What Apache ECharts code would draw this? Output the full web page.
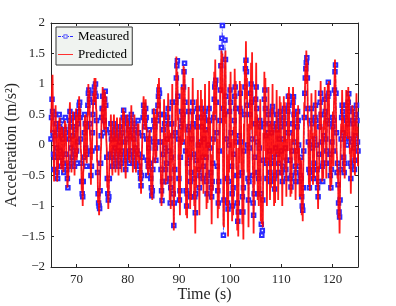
<!DOCTYPE html>
<html>
<head>
<meta charset="utf-8">
<script src="https://cdn.jsdelivr.net/npm/echarts@6/dist/echarts.min.js"></script>
<style>html,body{margin:0;padding:0;background:#fff}#c{width:396px;height:306px}</style>
</head>
<body>
<div id="c"></div>
<script>
// Sampling grid (s)
const timeStart = 65;
const timeStep = 0.1;
const xTicks = [70, 80, 90, 100, 110, 120];
const yTicks = [-2, -1.5, -1, -0.5, 0, 0.5, 1, 1.5, 2];

// Measured acceleration (m/s^2), one row per second, 65.0 .. 125.0
const measured = [
0.10,0.45,0.75,0.55,0.20,-0.15,-0.40,-0.20,0.15,0.50,
0.35,-0.05,-0.45,-0.55,-0.20,0.25,0.50,0.30,-0.10,-0.35,
-0.20,0.15,0.40,0.10,-0.30,-0.45,-0.15,0.25,0.45,0.20,
-0.15,-0.40,-0.55,-0.70,-0.35,0.10,0.40,0.55,0.30,-0.05,
-0.30,-0.20,0.15,0.45,0.30,-0.10,-0.35,-0.15,0.25,0.50,
-0.10,-0.30,0.05,0.35,0.55,0.65,0.70,0.45,0.10,-0.30,
-0.60,-0.80,-0.85,-0.60,-0.20,0.20,0.50,0.35,-0.05,-0.35,
-0.15,0.30,0.65,0.85,0.90,0.75,0.35,-0.10,-0.50,-0.35,
-0.10,0.20,0.50,0.70,0.85,0.95,0.85,1.00,0.80,0.40,
-0.05,-0.45,-0.80,-0.95,-1.00,-1.04,-0.75,-0.30,0.15,0.45,
0.60,0.80,0.60,0.20,0.40,0.75,0.88,0.65,0.25,-0.20,
-0.55,-0.80,-0.90,-0.85,-0.55,-0.15,0.20,0.35,0.10,-0.20,
-0.35,-0.15,0.15,0.35,0.25,-0.05,-0.30,-0.20,0.10,0.30,
0.20,-0.10,-0.35,-0.25,0.05,0.30,0.15,-0.15,-0.30,-0.10,
0.20,0.45,0.57,0.40,0.05,-0.25,-0.40,-0.20,0.10,0.35,
0.45,0.25,-0.10,-0.30,-0.15,0.15,0.40,0.50,0.25,-0.10,
-0.30,-0.20,0.10,0.35,0.25,-0.05,-0.30,-0.35,-0.10,0.20,
0.40,0.20,-0.15,-0.35,-0.45,-0.55,-0.67,-0.50,-0.20,0.15,
0.45,0.65,0.55,0.30,0.40,0.60,0.45,0.10,-0.25,-0.50,
-0.35,-0.05,0.25,0.10,-0.30,-0.55,-0.70,-0.83,-0.75,-0.40,
0.05,0.40,0.55,0.30,-0.05,-0.25,0.05,0.40,0.40,0.65,
0.80,0.90,0.85,0.50,0.05,-0.40,-0.75,-0.91,-0.60,-0.15,
0.25,0.50,0.35,-0.05,-0.40,-0.60,-0.30,0.10,0.45,0.60,
0.35,-0.10,-0.55,-0.95,-0.70,-0.20,0.35,0.70,0.15,-0.80,
-1.32,-0.95,-0.40,0.20,0.70,1.10,1.30,1.38,0.80,0.10,
-0.55,-0.90,-0.75,-0.20,0.30,0.55,0.40,0.05,0.50,0.95,
1.20,1.34,0.70,-0.10,-0.75,-1.00,-0.80,-0.30,0.25,0.55,
0.30,-0.20,-0.60,-0.85,-0.45,0.10,0.55,0.70,0.35,-0.15,
-0.55,-0.85,-1.11,-0.80,-0.25,0.30,0.60,0.45,0.00,-0.40,
-0.70,-0.50,0.05,0.45,0.60,0.30,-0.20,-0.55,-0.35,0.10,
0.45,0.55,0.25,-0.20,-0.60,-0.80,-0.50,0.00,0.40,0.60,
0.40,-0.05,-0.45,-0.70,-0.85,-0.60,-0.30,0.10,0.45,0.75,
0.95,1.00,1.06,0.70,0.20,-0.35,-0.75,-0.95,-0.60,-0.10,
0.40,0.90,1.30,1.60,1.75,1.96,0.60,-1.48,-0.90,0.50,
1.72,1.40,0.80,0.10,-0.55,-0.95,-1.05,-0.60,0.00,0.55,
0.90,0.70,0.20,-0.35,-0.80,-1.00,-0.70,-0.15,0.40,0.80,
0.95,0.60,0.05,-0.50,-0.95,-1.25,-1.10,-0.50,0.15,0.60,
0.85,0.55,0.05,-0.45,-0.85,-1.10,-0.70,-0.10,0.50,0.95,
1.25,1.39,1.20,0.65,0.00,-0.55,-0.90,-0.60,-0.05,0.50,
0.85,1.00,0.70,0.10,-0.50,-0.95,-1.15,-0.80,-0.20,0.35,
0.75,0.95,0.60,0.05,-0.45,-0.80,-0.55,-0.05,0.40,0.30,
-0.80,-1.30,-1.48,-1.40,-0.90,-0.25,0.35,0.75,0.90,0.60,
0.15,-0.30,-0.55,-0.25,0.20,0.50,0.35,-0.10,-0.45,-0.60,
-0.30,0.20,0.55,0.63,0.30,-0.20,-0.55,-0.72,-0.50,-0.05,
0.35,0.50,0.25,-0.15,-0.45,-0.30,0.10,0.40,0.55,0.30,
-0.10,-0.45,-0.60,-0.35,0.10,0.45,0.60,0.35,-0.05,-0.40,
-0.55,-0.25,0.20,0.55,0.80,0.65,0.20,-0.25,-0.55,-0.69,
-0.50,-0.10,0.35,0.70,0.79,0.50,0.05,-0.35,-0.60,-0.45,
-0.10,0.30,0.55,0.40,0.00,-0.35,-0.60,-0.50,-0.20,-0.55,
-0.85,-1.00,-1.07,-0.70,-0.10,0.45,0.85,1.10,1.25,1.35,
1.43,1.10,0.60,0.05,-0.40,-0.70,-0.45,0.00,0.40,0.60,
0.35,-0.05,-0.40,-0.55,-0.30,0.10,0.45,0.65,0.40,0.00,
-0.40,-0.70,-0.85,-0.60,-0.15,0.30,0.70,0.85,0.50,0.05,
-0.35,-0.60,-0.30,0.15,0.50,0.75,0.55,0.10,-0.30,-0.10,
0.40,0.80,1.03,0.85,0.35,-0.15,-0.50,-0.70,-0.40,0.05,
0.45,0.30,-0.10,0.40,0.90,1.20,1.31,0.85,0.20,-0.45,
-0.30,-0.65,-0.95,-1.10,-1.18,-0.90,-0.40,0.10,0.45,0.65,
0.55,0.20,-0.20,-0.45,-0.30,0.10,0.45,0.65,0.40,0.00,
0.35,0.70,0.84,0.55,0.10,-0.30,-0.55,-0.35,0.05,0.40,
0.60,0.35,-0.05,-0.40,-0.25,0.15,0.50,0.65,0.40,0.05,
-0.10
];

// Predicted acceleration (m/s^2), same grid
const predicted = [
0.20,0.60,0.95,1.15,0.40,-0.05,-0.60,-0.10,0.30,0.65,
0.20,0.10,-0.60,-0.40,-0.35,0.40,0.35,0.45,-0.25,-0.20,
-0.40,0.30,0.25,0.25,-0.45,-0.30,-0.30,0.40,0.30,0.35,
-0.30,-0.25,-0.70,-0.55,-0.50,0.25,0.25,0.70,0.15,0.10,
-0.45,-0.05,0.00,0.55,0.15,0.05,-0.50,0.00,0.10,0.60,
-0.25,-0.15,-0.10,0.50,0.40,0.80,0.55,0.60,-0.05,-0.15,
-0.75,-0.65,-1.00,-0.45,-0.35,0.35,0.35,0.50,-0.20,-0.20,
-0.30,0.45,0.50,1.00,0.75,0.90,0.20,0.05,-0.65,-0.20,
-0.25,0.35,0.35,0.85,0.70,1.10,0.70,1.10,0.60,0.55,
-0.25,-0.30,-0.95,-0.80,-1.15,-0.90,-0.90,-0.15,0.00,0.60,
0.45,0.95,0.45,0.35,0.25,0.90,0.70,0.80,0.10,-0.05,
-0.70,-0.65,-1.05,-0.70,-0.70,0.00,0.05,0.50,-0.05,-0.05,
-0.50,0.00,0.00,0.50,0.10,0.10,-0.45,-0.05,-0.05,0.45,
0.05,0.05,-0.50,-0.10,-0.10,0.45,0.00,0.00,-0.45,0.05,
0.05,0.60,0.42,0.55,-0.10,-0.10,-0.55,-0.05,-0.05,0.50,
0.30,0.40,-0.25,-0.15,-0.30,0.30,0.25,0.65,0.10,0.05,
-0.45,-0.05,-0.05,0.50,0.10,0.10,-0.45,-0.20,-0.25,0.35,
0.25,0.35,-0.30,-0.20,-0.60,-0.40,-0.80,-0.35,-0.35,0.30,
0.30,0.80,0.40,0.45,0.25,0.75,0.30,0.25,-0.40,-0.35,
-0.50,0.10,0.10,0.25,-0.45,-0.40,-0.85,-0.70,-0.90,-0.25,
-0.15,0.60,0.35,0.50,-0.30,-0.05,-0.20,0.60,0.45,1.00,
0.60,1.10,0.60,0.75,-0.20,-0.20,-1.00,-0.70,-0.85,0.10,
0.00,0.75,0.10,0.20,-0.65,-0.35,-0.60,0.35,0.20,0.85,
0.05,0.25,-0.90,-0.60,-1.05,0.20,-0.05,1.00,-0.20,-0.40,
-1.40,-0.60,-0.85,0.65,0.30,1.45,0.90,1.20,0.40,0.50,
-0.95,-0.50,-1.15,0.25,-0.15,0.95,0.00,0.50,0.05,1.30,
0.75,1.25,0.20,0.35,-1.15,-0.60,-1.20,0.15,-0.20,0.95,
-0.15,0.25,-1.05,-0.40,-0.90,0.55,0.10,1.10,-0.10,0.30,
-1.00,-0.40,-1.45,-0.35,-0.70,0.75,0.15,0.90,-0.45,0.05,
-1.15,-0.05,-0.40,0.90,0.15,0.75,-0.65,-0.10,-0.80,0.55,
0.00,1.00,-0.20,0.25,-1.05,-0.35,-0.95,0.45,-0.05,1.05,
-0.05,0.40,-0.90,-0.25,-1.30,-0.15,-0.75,0.55,0.00,1.20,
0.50,1.40,0.60,1.10,-0.25,0.10,-1.20,-0.50,-1.05,0.35,
-0.05,1.35,0.85,1.55,1.25,1.50,0.10,-1.30,-1.35,0.90,
1.30,1.55,0.35,0.55,-1.00,-0.50,-1.50,-0.15,-0.45,1.00,
0.45,1.20,-0.25,0.10,-1.25,-0.55,-1.15,0.30,-0.05,1.25,
0.50,1.05,-0.40,-0.05,-1.40,-0.80,-1.50,-0.05,-0.30,1.05,
0.40,1.00,-0.40,0.00,-1.30,-0.65,-1.55,0.35,0.05,1.40,
0.80,1.70,0.75,1.10,-0.45,0.35,-1.35,-0.15,-0.50,0.95,
0.40,1.35,0.25,1.52,-0.05,-0.50,-1.45,-0.35,-0.65,0.80,
0.30,1.35,0.15,0.50,-0.90,-0.35,-1.00,0.40,-0.05,0.75,
-1.25,-0.85,-1.30,-0.95,-1.35,0.20,-0.10,1.20,0.45,1.10,
-0.30,0.15,-1.00,0.20,-0.25,0.95,-0.10,0.35,-0.90,-0.15,
-0.70,0.60,0.15,1.00,-0.15,0.25,-1.00,-0.30,-0.95,0.35,
-0.10,0.90,-0.15,0.25,-0.90,0.10,-0.30,0.80,0.15,0.70,
-0.50,0.00,-1.00,0.05,-0.25,0.80,0.25,0.70,-0.40,-0.05,
-0.85,0.10,-0.10,0.85,0.50,0.95,-0.10,0.10,-0.85,-0.40,
-0.80,0.20,0.05,0.95,0.50,0.80,-0.25,-0.05,-0.90,-0.15,
-0.35,0.55,0.25,0.65,-0.30,-0.05,-0.85,-0.20,-0.50,-0.25,
-1.15,-0.75,-1.25,-0.40,-0.40,0.70,0.60,1.30,1.00,1.55,
1.20,1.35,0.35,0.30,-0.65,-0.45,-0.75,0.25,0.15,0.85,
0.10,0.20,-0.65,-0.30,-0.55,0.35,0.20,0.90,0.15,0.25,
-0.65,-0.45,-1.05,-0.35,-0.40,0.55,0.45,1.05,0.25,0.30,
-0.60,-0.35,-0.55,0.40,0.25,0.95,0.30,0.35,-0.55,0.15,
0.15,1.00,0.80,1.05,0.10,0.10,-0.75,-0.45,-0.65,0.30,
0.20,0.55,-0.35,0.65,0.65,1.40,1.05,1.05,-0.05,-0.20,
-0.55,-0.40,-1.20,-0.85,-1.45,-0.65,-0.65,0.35,0.20,0.90,
0.30,0.45,-0.45,-0.20,-0.55,0.35,0.20,0.90,0.15,0.25,
0.10,0.95,0.60,0.80,-0.15,-0.05,-0.80,-0.10,-0.20,0.65,
0.35,0.60,-0.30,-0.15,-0.50,0.40,0.25,0.85,0.15,0.30,
-0.35
];

const seriesNames = ['Measured', 'Predicted'];

const toPairs = arr => arr.map((v, i) => [+(timeStart + i * timeStep).toFixed(2), v]);

const font = 'Liberation Serif';
const axisColor = '#262626';
const fmtY = v => (v < 0 ? '\u2212' + Math.abs(v) : String(v));

// legend glyphs: dash-dot line with hollow square / plain thin line
const measuredIcon = 'path://M0,1.6H3V2.4H0Z M4,1.6H5V2.4H4Z M5.5,0H9.5V4H5.5Z M6.3,0.8V3.2H8.7V0.8Z M10,1.6H11V2.4H10Z M12,1.6H15V2.4H12Z';
const predictedIcon = 'path://M0,0H15V1H0Z';

const chart = echarts.init(document.getElementById('c'), null, {renderer: 'canvas'});
chart.setOption({
  animation: false,
  backgroundColor: '#ffffff',
  grid: {left: 51, right: 38, top: 23, bottom: 39, containLabel: false, outerBoundsMode: 'none'},
  legend: {
    orient: 'vertical',
    left: 56, top: 27,
    itemWidth: 15, itemHeight: 10, itemGap: 5,
    padding: [3, 3, 4, 2],
    backgroundColor: '#f0f3f0',
    borderColor: '#333333', borderWidth: 1, borderRadius: 0,
    textStyle: {fontFamily: font, fontSize: 13, color: '#000'},
    itemStyle: {borderWidth: 0},
    data: [
      {name: seriesNames[0], icon: measuredIcon, itemStyle: {color: '#2b2bff', borderWidth: 0}},
      {name: seriesNames[1], icon: predictedIcon, itemStyle: {color: '#ff3030', borderWidth: 0}}
    ]
  },
  xAxis: [{
    type: 'value', min: 65, max: 125,
    name: 'Time (s)', nameLocation: 'middle', nameGap: 20, nameMoveOverlap: false,
    nameTextStyle: {fontFamily: font, fontSize: 16, color: axisColor},
    axisLine: {show: true, onZero: false, lineStyle: {color: axisColor, width: 1}},
    axisTick: {show: true, inside: true, length: 3, lineStyle: {color: axisColor}, customValues: xTicks},
    axisLabel: {fontFamily: font, fontSize: 13, color: axisColor, margin: 6, customValues: xTicks},
    splitLine: {show: false}
  }, {
    type: 'value', min: 65, max: 125, position: 'top',
    axisLine: {show: true, onZero: false, lineStyle: {color: axisColor, width: 1}},
    axisTick: {show: true, inside: true, length: 3, lineStyle: {color: axisColor}, customValues: xTicks},
    axisLabel: {show: false},
    splitLine: {show: false}
  }],
  yAxis: [{
    type: 'value', min: -2, max: 2, interval: 0.5,
    name: 'Acceleration (m/s\u00b2)', nameLocation: 'middle', nameGap: 31, nameMoveOverlap: false,
    nameTextStyle: {fontFamily: font, fontSize: 16, color: axisColor},
    axisLine: {show: true, onZero: false, lineStyle: {color: axisColor, width: 1}},
    axisTick: {show: true, inside: true, length: 3, lineStyle: {color: axisColor}},
    axisLabel: {fontFamily: font, fontSize: 13, color: axisColor, margin: 6, formatter: fmtY, customValues: yTicks},
    splitLine: {show: false}
  }, {
    type: 'value', min: -2, max: 2, interval: 0.5, position: 'right',
    axisLine: {show: true, onZero: false, lineStyle: {color: axisColor, width: 1}},
    axisTick: {show: true, inside: true, length: 3, lineStyle: {color: axisColor}},
    axisLabel: {show: false},
    splitLine: {show: false}
  }],
  series: [{
    name: seriesNames[0],
    type: 'line',
    data: toPairs(measured),
    symbol: 'emptyRect', symbolSize: 3.5,
    showSymbol: true, showAllSymbol: true,
    sampling: 'none',
    itemStyle: {color: '#2b2bff', borderColor: '#2b2bff', borderWidth: 0.9},
    lineStyle: {color: '#3a3aff', width: 0.7, type: [4, 2, 1, 2]},
    emphasis: {disabled: true},
    z: 2
  }, {
    name: seriesNames[1],
    type: 'line',
    data: toPairs(predicted),
    symbol: 'none', showSymbol: false,
    sampling: 'none',
    itemStyle: {color: '#ff2020'},
    lineStyle: {color: 'rgba(255,0,0,0.9)', width: 1.8},
    emphasis: {disabled: true},
    z: 3
  }]
});
</script>
</body>
</html>
